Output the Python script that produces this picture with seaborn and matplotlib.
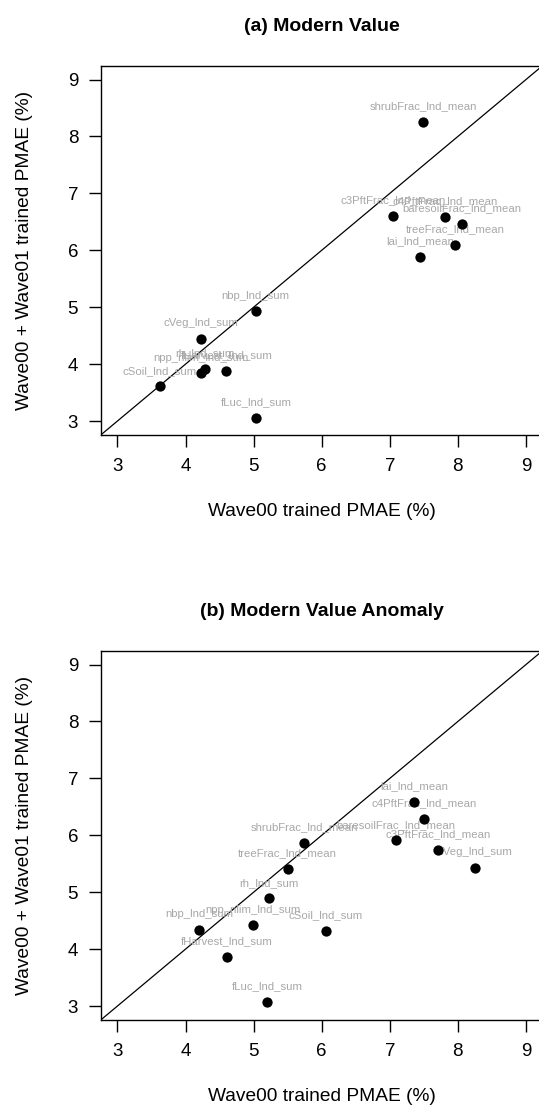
import matplotlib
matplotlib.use("Agg")
import matplotlib.pyplot as plt
import seaborn as sns
import pandas as pd

# (a) Modern value: PMAE of each output variable
names_a = ["shrubFrac_lnd_mean", "c3PftFrac_lnd_mean", "c4PftFrac_lnd_mean",
           "baresoilFrac_lnd_mean", "treeFrac_lnd_mean", "lai_lnd_mean",
           "nbp_lnd_sum", "cVeg_lnd_sum", "npp_nlim_lnd_sum", "rh_lnd_sum",
           "fHarvest_lnd_sum", "cSoil_lnd_sum", "fLuc_lnd_sum"]
wave00_a = [7.49, 7.05, 7.81, 8.06, 7.96, 7.45, 5.03, 4.23, 4.23, 4.29, 4.60, 3.62, 5.04]
wave01_a = [8.25, 6.60, 6.59, 6.46, 6.10, 5.88, 4.93, 4.45, 3.84, 3.91, 3.88, 3.61, 3.05]

# (b) Modern value anomaly
names_b = ["lai_lnd_mean", "c4PftFrac_lnd_mean", "baresoilFrac_lnd_mean",
           "c3PftFrac_lnd_mean", "cVeg_lnd_sum", "shrubFrac_lnd_mean",
           "treeFrac_lnd_mean", "rh_lnd_sum", "npp_nlim_lnd_sum", "nbp_lnd_sum",
           "cSoil_lnd_sum", "fHarvest_lnd_sum", "fLuc_lnd_sum"]
wave00_b = [7.36, 7.50, 7.09, 7.71, 8.25, 5.74, 5.50, 5.22, 4.99, 4.20, 6.06, 4.61, 5.20]
wave01_b = [6.59, 6.29, 5.91, 5.74, 5.43, 5.87, 5.41, 4.89, 4.42, 4.34, 4.32, 3.86, 3.07]

titles = ["(a) Modern Value", "(b) Modern Value Anomaly"]
ticks = [3, 4, 5, 6, 7, 8, 9]
xlabel = "Wave00 trained PMAE (%)"
ylabel = "Wave00 + Wave01 trained PMAE (%)"

sns.set_theme(style="white")
plt.rcParams["font.family"] = ["Liberation Sans", "DejaVu Sans"]
plt.rcParams["text.color"] = "black"
plt.rcParams["axes.labelcolor"] = "black"
plt.rcParams["axes.titlecolor"] = "black"

W, H = 539, 1115
fig = plt.figure(figsize=(W / 100, H / 100), dpi=100)

lo, hi = 3 - 0.04 * 6, 9 + 0.04 * 6
ax_w = 441.2 / W
ax_h = 368.8 / H
positions = [(101.1 / W, 1 - 434.7 / H), (101.1 / W, 1 - 1019.7 / H)]

panels = [(names_a, wave00_a, wave01_a), (names_b, wave00_b, wave01_b)]

for (left, bottom), title, (names, x, y) in zip(positions, titles, panels):
    ax = fig.add_axes([left, bottom, ax_w, ax_h])
    df = pd.DataFrame({"name": names, "wave00": x, "wave01": y})

    ax.axline((lo, lo), slope=1, color="black", lw=0.9, zorder=1)
    sns.scatterplot(data=df, x="wave00", y="wave01", ax=ax, color="black",
                    s=55, linewidth=0, zorder=3, legend=False)
    for _, r in df.iterrows():
        ax.annotate(r["name"], (r["wave00"], r["wave01"]), xytext=(0, 11.3),
                    textcoords="offset points", ha="center", va="center",
                    fontsize=8.2, color="#a8a8a8", zorder=2)

    ax.set_xlim(lo, hi)
    ax.set_ylim(lo, hi)
    ax.set_xticks(ticks)
    ax.set_yticks(ticks)
    ax.tick_params(bottom=True, left=True, direction="out", length=8.5,
                   width=1.0, pad=8, labelsize=13.5, colors="black")
    for sp in ax.spines.values():
        sp.set_color("black")
        sp.set_linewidth(1.0)

    ax.set_xlabel(xlabel, fontsize=13.8)
    ax.set_ylabel(ylabel, fontsize=13.8)
    ax.xaxis.set_label_coords(0.5, -(503 - 434.7) / 368.8)
    ax.yaxis.set_label_coords(-(101.1 - 33) / 441.2, 0.5)
    ax.set_title(title, fontsize=14, fontweight="bold", pad=25)

fig.savefig("out.png", dpi=100)
